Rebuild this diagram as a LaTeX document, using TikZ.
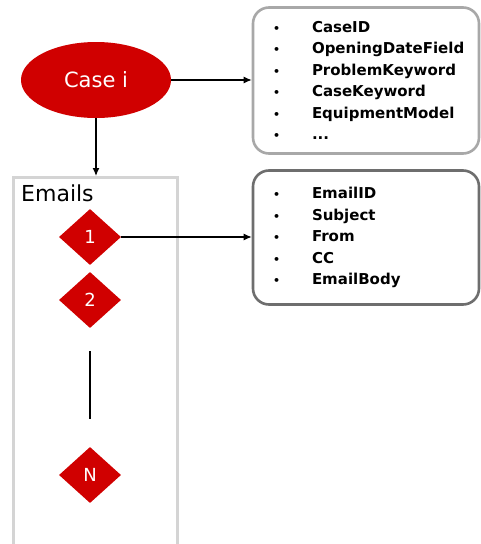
\documentclass[tikz,border=0pt]{standalone}
\usepackage{fontspec}
\setmainfont{DejaVu Sans}
\usetikzlibrary{shapes.geometric,arrows.meta}
\definecolor{abbred}{RGB}{208,0,0}
\definecolor{boxgrey}{RGB}{168,168,168}
\definecolor{boxdark}{RGB}{110,110,110}
\definecolor{listgrey}{RGB}{212,212,212}
\tikzset{
  conn/.style={draw=black, line width=1.2pt, -{Latex[length=8pt,width=7pt]}},
  attrbox/.style={rounded corners=16pt, line width=2.6pt, fill=white,
    minimum width=226pt, inner xsep=20pt, text width=186pt, align=left,
    font={\fontsize{15}{21.5}\selectfont\bfseries}},
  mail/.style={diamond, fill=abbred, text=white, inner sep=0pt,
    minimum width=62pt, minimum height=56pt, aspect=1.1,
    font={\fontsize{18}{18}\selectfont}},
}
\newcommand{\bul}{\makebox[39pt][l]{{\fontsize{11}{11}\selectfont\textbullet}}}
\begin{document}
\begin{tikzpicture}[x=1pt,y=-1pt]
  \useasboundingbox (0,0) rectangle (481,544);
  % case node and its attributes
  \node[ellipse, fill=abbred, text=white, minimum width=150pt, minimum height=76pt,
        inner sep=0pt, font={\fontsize{21}{21}\selectfont}] (case) at (96,80) {Case i};
  \node[attrbox, draw=boxgrey, minimum height=146pt] (caseattr) at (366,80.5)
    {\bul CaseID\\ \bul OpeningDateField\\ \bul ProblemKeyword\\ \bul CaseKeyword\\
     \bul EquipmentModel\\ \bul ...};
  % list of e-mails
  \node[draw=listgrey, line width=2.6pt, anchor=north west, minimum width=164pt,
        minimum height=368pt, inner sep=0pt] (emails) at (12,176) {};
  \node[anchor=west, inner sep=0pt, font={\fontsize{22}{22}\selectfont}] (emlabel) at (21,193) {Emails};
  \node[mail] (d1) at (90,237) {1};
  \node[mail] (d2) at (90,300) {2};
  \node[mail] (dN) at (90,475) {N};
  \coordinate (dotsTop) at (90,351);
  \coordinate (dotsBot) at (90,419);
  \draw[line width=1.2pt] (dotsTop) -- (dotsBot);
  % e-mail attributes
  \node[attrbox, draw=boxdark, minimum height=134pt] (mailattr) at (366,237.5)
    {\bul EmailID\\ \bul Subject\\ \bul From\\ \bul CC\\ \bul EmailBody};
  % connectors
  \draw[conn] (case.east) -- (case.east -| caseattr.west);
  \draw[conn] (case.south) -- (case.south |- emails.north);
  \draw[conn] (d1.east) -- (d1.east -| mailattr.west);
\end{tikzpicture}
\end{document}
